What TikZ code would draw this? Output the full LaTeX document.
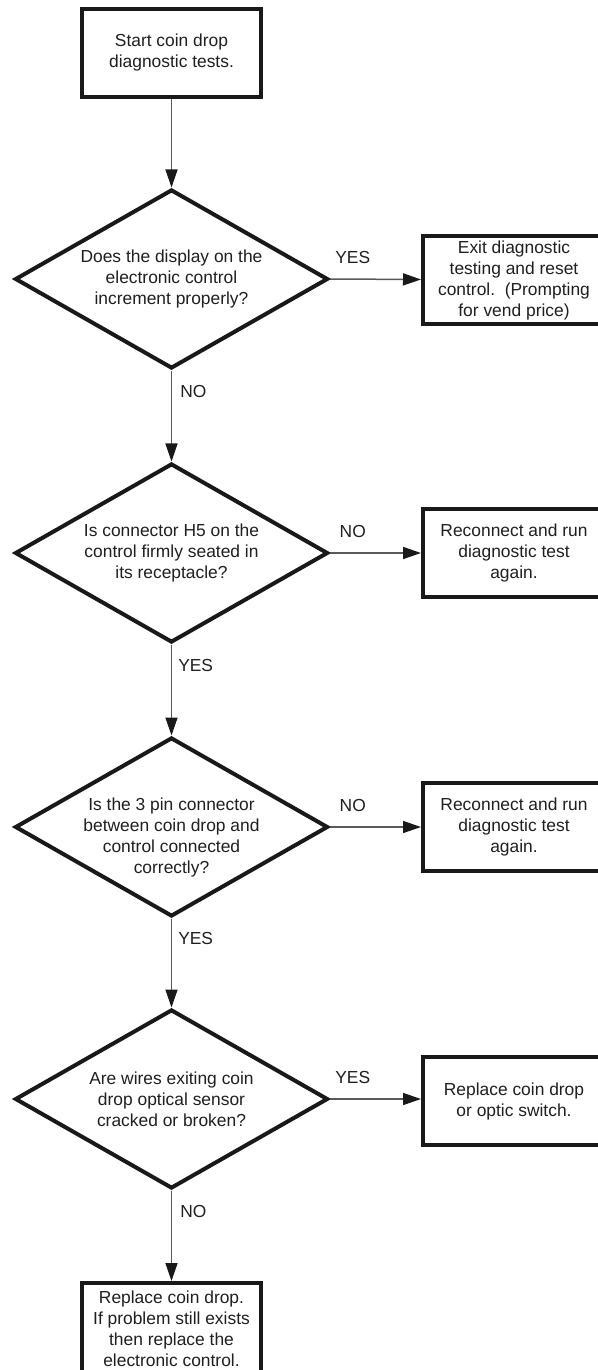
\documentclass[tikz,border=0pt]{standalone}
\usepackage{fontspec}
\setmainfont{Liberation Sans}
\usetikzlibrary{arrows.meta,shapes.geometric}

\tikzset{
  txt/.style={font=\fontsize{17.4pt}{21pt}\selectfont,text=black!88,align=center},
  stepbox/.style={txt,draw=black!90,line width=4pt,rectangle,minimum width=179pt,minimum height=88pt,inner sep=0pt},
  sidebox/.style={stepbox,minimum width=182pt},
  question/.style={txt,draw=black!90,line width=4pt,shape=diamond,aspect=1.74,minimum width=313pt,minimum height=179pt,inner xsep=-6pt,inner ysep=0pt},
  conn/.style={draw=black!65,line width=1.5pt,->},
  lbl/.style={font=\fontsize{17.4pt}{21pt}\selectfont,text=black!88,inner sep=0pt}
}

\begin{document}
\begin{tikzpicture}[x=1pt,y=-1pt,>={Triangle[length=18pt,width=12pt,color=black!90]}]
  \useasboundingbox (0,0) rectangle (597,1370);
  % inicio
  \node[stepbox] (start) at (171.5,53) {Start coin drop\\diagnostic tests.};
  % preguntas
  \node[question] (q1) at (171.5,279) {Does the display on the\\electronic control\\increment properly?};
  \node[question] (q2) at (171.5,553) {Is connector H5 on the\\control firmly seated in\\its receptacle?};
  \node[question,label={[txt,inner sep=0pt,yshift=-10pt]center:{Is the 3 pin connector\\between coin drop and\\control connected\\correctly?}}] (q3) at (171.5,827) {};
  \node[question] (q4) at (171.5,1099) {Are wires exiting coin\\drop optical sensor\\cracked or broken?};
  % acciones a la derecha
  \node[sidebox] (exit) at (514,280) {Exit diagnostic\\testing and reset\\control.\ \ (Prompting\\for vend price)};
  \node[sidebox] (recon1) at (514,553) {Reconnect and run\\diagnostic test\\again.};
  \node[sidebox] (recon2) at (514,827) {Reconnect and run\\diagnostic test\\again.};
  \node[sidebox] (repl) at (514,1101) {Replace coin drop\\or optic switch.};
  % final
  \node[stepbox,minimum height=92pt] (final) at (171.5,1329) {Replace coin drop.\\If problem still exists\\then replace the\\electronic control.};
  % flechas verticales
  \draw[conn] (start) -- (q1);
  \draw[conn] (q1) -- node[lbl,pos=0.23,anchor=west,xshift=8pt]{NO} (q2);
  \draw[conn] (q2) -- node[lbl,pos=0.23,anchor=west,xshift=6pt]{YES} (q3);
  \draw[conn] (q3) -- node[lbl,pos=0.23,anchor=west,xshift=6pt]{YES} (q4);
  \draw[conn] (q4) -- node[lbl,pos=0.23,anchor=west,xshift=8pt]{NO} (final);
  % flechas horizontales
  \draw[conn] (q1.east) -- node[lbl,pos=0.25,anchor=south,yshift=15pt]{YES} (exit);
  \draw[conn] (q2.east) -- node[lbl,pos=0.25,anchor=south,yshift=15pt]{NO} (recon1);
  \draw[conn] (q3.east) -- node[lbl,pos=0.25,anchor=south,yshift=15pt]{NO} (recon2);
  \draw[conn] (q4.east) -- node[lbl,pos=0.25,anchor=south,yshift=15pt]{YES} (repl.west |- q4.east);
\end{tikzpicture}
\end{document}
